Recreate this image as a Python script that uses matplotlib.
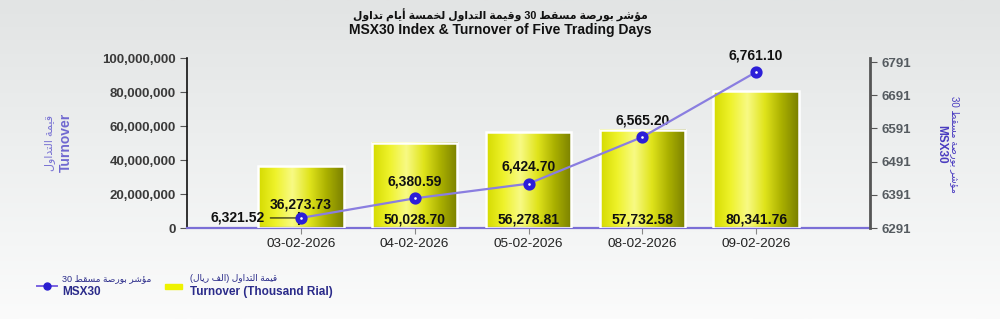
import numpy as np
import matplotlib
matplotlib.use("Agg")
import matplotlib.pyplot as plt
from matplotlib.colors import LinearSegmentedColormap
from matplotlib.lines import Line2D
from matplotlib.patches import Rectangle

# ---- data ----
dates = ["03-02-2026", "04-02-2026", "05-02-2026", "08-02-2026", "09-02-2026"]
turnover = [36273.73, 50028.70, 56278.81, 57732.58, 80341.76]  # thousand rial
msx30 = [6321.52, 6380.59, 6424.70, 6565.20, 6761.10]
left_ticks = [0, 20000000, 40000000, 60000000, 80000000, 100000000]
right_ticks = [6291, 6391, 6491, 6591, 6691, 6791]

title_ar = "مؤشر بورصة مسقط 30 وقيمة التداول لخمسة أيام تداول"
title_en = "MSX30 Index & Turnover of Five Trading Days"
left_label_ar = "قيمة التداول"
index_label_ar = "مؤشر بورصة مسقط 30"
turnover_legend_ar = "قيمة التداول (الف ريال)"

# ---- minimal arabic shaping (matplotlib has no shaping / bidi) ----
AR_FORMS = {
    "ا": (0xFE8D, 2), "أ": (0xFE83, 2), "ؤ": (0xFE85, 2), "ة": (0xFE93, 2),
    "د": (0xFEA9, 2), "ر": (0xFEAD, 2), "و": (0xFEED, 2),
    "ب": (0xFE8F, 4), "ت": (0xFE95, 4), "خ": (0xFEA5, 4), "س": (0xFEB1, 4),
    "ش": (0xFEB5, 4), "ص": (0xFEB9, 4), "ط": (0xFEC1, 4), "ف": (0xFED1, 4),
    "ق": (0xFED5, 4), "ل": (0xFEDD, 4), "م": (0xFEE1, 4), "ي": (0xFEF1, 4),
}


def shape_word(w):
    out = []
    for i, ch in enumerate(w):
        if ch not in AR_FORMS:
            out.append(ch)
            continue
        base, n = AR_FORMS[ch]
        prev = w[i - 1] if i > 0 else ""
        nxt = w[i + 1] if i + 1 < len(w) else ""
        join_prev = prev in AR_FORMS and AR_FORMS[prev][1] == 4
        join_next = n == 4 and nxt in AR_FORMS
        if join_prev and join_next:
            off = 3
        elif join_prev:
            off = 1
        elif join_next:
            off = 2
        else:
            off = 0
        out.append(chr(base + off))
    return "".join(out)


def ar(text):
    words = []
    for w in text.split(" "):
        if any(c in AR_FORMS for c in w):
            s = shape_word(w)[::-1]
            s = s.translate(str.maketrans("()", ")("))
            words.append(s)
        else:
            words.append(w)
    return " ".join(words[::-1])


plt.rcParams["font.family"] = ["Liberation Sans", "DejaVu Sans"]

fig = plt.figure(figsize=(10, 3.19), dpi=100)

# background gradient
bg = fig.add_axes([0, 0, 1, 1], zorder=-10)
bg_cmap = LinearSegmentedColormap.from_list("bg", ["#e2e4e4", "#eef0f0", "#fbfbfb"])
bg.imshow(np.linspace(0, 1, 256).reshape(-1, 1), aspect="auto", cmap=bg_cmap,
          extent=(0, 1, 0, 1))
bg.axis("off")

ax = fig.add_axes([0.187, 0.285, 0.683, 0.533])
ax.set_facecolor("none")
x = np.arange(len(dates))
heights = np.array(turnover) * 1000

bar_cmap = LinearSegmentedColormap.from_list(
    "bar", ["#d4da00", "#eef22a", "#f8fa84", "#e0e41c", "#aab000", "#7a8000"])
grad = np.linspace(0, 1, 256).reshape(1, -1)
width = 0.75
bars = ax.bar(x, heights, width=width, facecolor="none", edgecolor="white",
              linewidth=1.8, zorder=3)
for rect in bars:
    x0 = rect.get_x()
    ax.imshow(grad, aspect="auto", cmap=bar_cmap, zorder=2,
              extent=(x0, x0 + rect.get_width(), 0, rect.get_height()))

ax.set_xlim(-1, len(dates))
ax.set_ylim(0, 100000000)
ax.set_yticks(left_ticks)
ax.set_yticklabels([f"{v:,}" for v in left_ticks], fontsize=9.5,
                   fontweight="bold", color="#3a3a3a")
ax.set_xticks(x)
ax.set_xticklabels(dates, fontsize=9.7, color="#222222")
ax.tick_params(axis="x", length=4, color="#888888", pad=3)
ax.tick_params(axis="y", length=5, width=0.8, color="#555555", pad=3)
for side in ["top", "right"]:
    ax.spines[side].set_visible(False)
ax.spines["left"].set_color("#111111")
ax.spines["left"].set_linewidth(1.2)
ax.spines["bottom"].set_color("#7b6fd6")
ax.spines["bottom"].set_linewidth(1.6)

# bar value labels
for i, v in enumerate(turnover):
    dy = 12 if i == 0 else 1
    ax.annotate(f"{v:,.2f}", (x[i], 0), xytext=(0, dy), textcoords="offset points",
                ha="center", va="bottom", fontsize=10, fontweight="bold",
                color="#111111", zorder=6)

ax2 = ax.twinx()
ax2.set_ylim(6291, 6803)
ax2.set_yticks(right_ticks)
ax2.set_yticklabels([str(v) for v in right_ticks], fontsize=9.5,
                    fontweight="bold", color="#555b60")
ax2.tick_params(axis="y", length=5, width=0.8, color="#555555", pad=3)
for side in ["top", "left", "bottom"]:
    ax2.spines[side].set_visible(False)
ax2.spines["right"].set_color("#555555")
ax2.spines["right"].set_linewidth(2)

ax2.plot(x, msx30, color="#8a7ee0", lw=1.6, marker="o", ms=5.4,
         mfc="white", mec="#2c1ed8", mew=3.4, zorder=5)
for i, v in enumerate(msx30):
    if i == 0:
        ax2.annotate(f"{v:,.2f}", (x[i], v), xytext=(-26, 0),
                     textcoords="offset points", ha="right", va="center",
                     fontsize=10, fontweight="bold", color="#111111",
                     arrowprops=dict(arrowstyle="-[", color="#111111", lw=0.8,
                                     mutation_scale=4))
    else:
        ax2.annotate(f"{v:,.2f}", (x[i], v), xytext=(0, 7),
                     textcoords="offset points", ha="center", va="bottom",
                     fontsize=10, fontweight="bold", color="#111111")

# titles
fig.text(0.5, 0.953, ar(title_ar), ha="center", va="center", fontsize=7.8,
         fontweight="bold", color="#111111")
fig.text(0.5, 0.905, title_en, ha="center", va="center", fontsize=10,
         fontweight="bold", color="#111111",
         family=["Liberation Sans Narrow", "Liberation Sans", "DejaVu Sans"])

# axis labels
fig.text(0.05, 0.553, ar(left_label_ar), rotation=90, ha="center", va="center",
         fontsize=8, color="#7a74d4")
fig.text(0.066, 0.553, "Turnover", rotation=90, ha="center", va="center",
         fontsize=10, fontweight="bold", color="#7068d0")
fig.text(0.955, 0.548, ar(index_label_ar), rotation=270, ha="center", va="center",
         fontsize=7, color="#4a3cc0")
fig.text(0.941, 0.548, "MSX30", rotation=270, ha="center", va="center",
         fontsize=8.5, fontweight="bold", color="#4a3cc0")

# legend
fig.add_artist(Line2D([0.037, 0.057], [0.105, 0.105], color="#7a62e0", lw=1.4))
fig.add_artist(Line2D([0.047], [0.105], marker="o", ms=5, color="#2a1ed0"))
fig.text(0.062, 0.128, ar(index_label_ar), ha="left", va="center", fontsize=6.5,
         color="#2b2b8a")
fig.text(0.062, 0.085, "MSX30", ha="left", va="center", fontsize=8.5,
         fontweight="bold", color="#2b2b8a")
fig.add_artist(Rectangle((0.165, 0.095), 0.017, 0.016, color="#eef200",
                         transform=fig.transFigure))
fig.text(0.19, 0.128, ar(turnover_legend_ar), ha="left", va="center",
         fontsize=6.5, color="#2b2b8a")
fig.text(0.19, 0.085, "Turnover (Thousand Rial)", ha="left", va="center",
         fontsize=8.5, fontweight="bold", color="#2b2b8a")

fig.savefig("out.png", dpi=100)
